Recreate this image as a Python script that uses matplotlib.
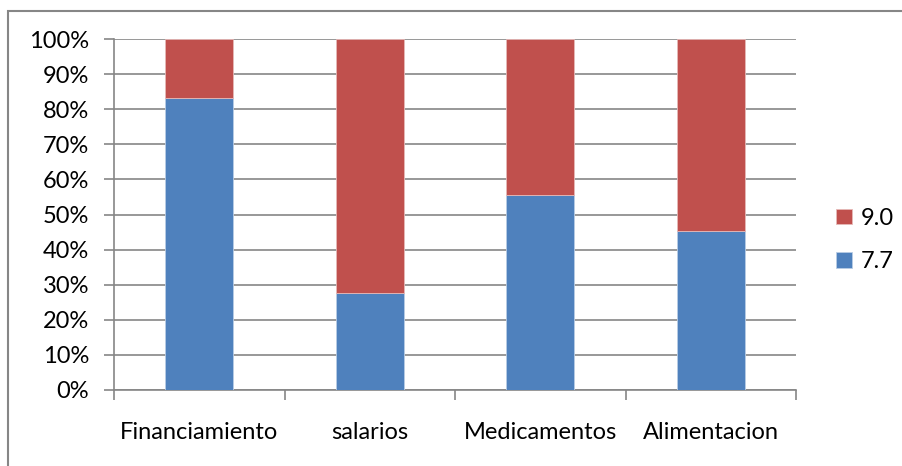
import numpy as np
import matplotlib.pyplot as plt
from matplotlib.ticker import PercentFormatter
from matplotlib.patches import Rectangle

categories = ['Financiamiento', 'salarios', 'Medicamentos', 'Alimentacion']
share_77 = [83.3, 27.6, 55.6, 45.3]
share_90 = [16.7, 72.4, 44.4, 54.7]
series_labels = ['7.7', '9.0']

plt.rcParams['font.family'] = ['Lato', 'DejaVu Sans']
plt.rcParams['font.size'] = 17

blue = '#4f81bd'
red = '#c0504d'
axis_grey = '#868686'

fig = plt.figure(figsize=(9.02, 4.66), dpi=100)
ax = fig.add_axes([114 / 902, 1 - 390 / 466, (796 - 114) / 902, (390 - 39) / 466])

x = np.arange(len(categories))
b1 = ax.bar(x, share_77, width=0.4, color=blue, edgecolor='#b9cde5', linewidth=0.6, zorder=3, label=series_labels[0])
b2 = ax.bar(x, share_90, width=0.4, bottom=share_77, color=red, edgecolor='#e6b9b8', linewidth=0.6, zorder=3, label=series_labels[1])

ax.set_xlim(-0.5, len(categories) - 0.5)
ax.set_ylim(0, 100)
ax.set_yticks(np.arange(0, 101, 10))
ax.yaxis.set_major_formatter(PercentFormatter(decimals=0))
ax.grid(axis='y', color=axis_grey, linewidth=1.2, zorder=0)

ax.set_xticks(x)
ax.set_xticklabels(categories)
ax.set_xticks(np.arange(-0.5, len(categories)), minor=True)
ax.tick_params(axis='x', which='major', length=0, pad=23)
ax.tick_params(axis='x', which='minor', length=7, width=1.2, color=axis_grey)
ax.tick_params(axis='y', length=7, width=1.2, color=axis_grey, pad=11)

for side in ['top', 'right']:
    ax.spines[side].set_visible(False)
for side in ['left', 'bottom']:
    ax.spines[side].set_color(axis_grey)
    ax.spines[side].set_linewidth(1.2)

ax.legend([b2, b1], [series_labels[1], series_labels[0]], loc='center left',
          bbox_to_anchor=(1.028, 0.427), frameon=False, handlelength=0.65,
          handleheight=0.65, handletextpad=0.4, labelspacing=0.95)

# outer chart border (only top and left edges visible)
fig.patches.append(Rectangle((8 / 902, -0.1), 1.2, 1 - 11 / 466 + 0.1, transform=fig.transFigure,
                             fill=False, edgecolor=axis_grey, linewidth=1.5))

fig.savefig('out.png', dpi=100)
